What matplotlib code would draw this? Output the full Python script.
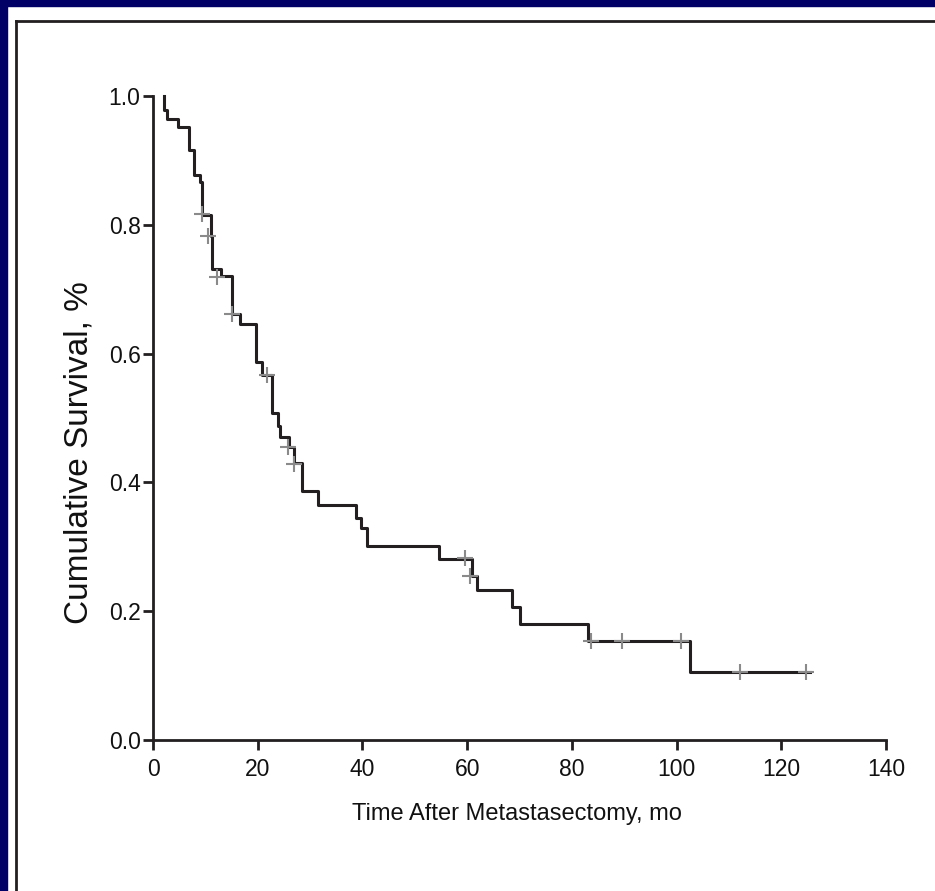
import matplotlib
matplotlib.use('Agg')
import matplotlib.pyplot as plt
from matplotlib.patches import Rectangle
from matplotlib.lines import Line2D

# Kaplan-Meier steps (months, survival after the drop)
start_time = 2.1
event_t = [2.1, 2.6, 4.8, 6.9, 7.8, 8.9, 9.4, 11.0, 11.3, 13.0, 15.1, 16.6,
           19.7, 20.8, 22.8, 23.8, 24.3, 26.0, 27.0, 28.5, 31.5, 38.7, 39.7,
           40.8, 54.7, 60.9, 61.8, 68.6, 70.1, 83.0, 102.6]
surv = [0.978, 0.964, 0.952, 0.916, 0.878, 0.867, 0.815, 0.783, 0.731, 0.720,
        0.661, 0.646, 0.587, 0.566, 0.508, 0.487, 0.471, 0.455, 0.430, 0.387,
        0.365, 0.345, 0.329, 0.302, 0.281, 0.255, 0.233, 0.207, 0.180, 0.154,
        0.106]
end_time = 125.5

# censored cases
cens_t = [9.3, 10.6, 12.3, 15.0, 21.7, 25.8, 26.9, 59.5, 60.5, 83.7, 89.6,
          100.8, 112.2, 124.7]
cens_s = [0.817, 0.782, 0.719, 0.661, 0.567, 0.455, 0.429, 0.282, 0.255,
          0.154, 0.154, 0.154, 0.106, 0.106]

x_ticks = [0, 20, 40, 60, 80, 100, 120, 140]
y_ticks = [0.0, 0.2, 0.4, 0.6, 0.8, 1.0]

plt.rcParams['font.family'] = ['Liberation Sans Narrow', 'Liberation Sans', 'DejaVu Sans']

W, H = 935, 891
fig = plt.figure(figsize=(W / 100, H / 100), dpi=100)
fig.patch.set_facecolor('white')

# navy border (top and left) and black frame
fig.add_artist(Rectangle((0, 0), 7 / W, 1, transform=fig.transFigure,
                         color='#000066', zorder=0))
fig.add_artist(Rectangle((0, 1 - 5.7 / H), 1, 5.7 / H, transform=fig.transFigure,
                         color='#000066', zorder=0))
fig.add_artist(Line2D([16.3 / W, 1], [1 - 21.3 / H, 1 - 21.3 / H],
                      transform=fig.transFigure, color='#231f20', lw=2))
fig.add_artist(Line2D([16.3 / W, 16.3 / W], [0, 1 - 21.3 / H],
                      transform=fig.transFigure, color='#231f20', lw=2))

ax = fig.add_axes([153 / W, 1 - 740 / H, 733 / W, 644 / H])

xs = [start_time] + event_t + [end_time]
ys = [1.0] + surv + [surv[-1]]
ax.step(xs, ys, where='post', color='#231f20', lw=2.2, clip_on=False, zorder=3)
ax.plot(cens_t, cens_s, linestyle='none', marker='+', markersize=12,
        mew=1.5, color='#8a8a8a', clip_on=False, zorder=4)

ax.set_xlim(0, 140)
ax.set_ylim(0, 1.0)
ax.set_xticks(x_ticks)
ax.set_yticks(y_ticks)
ax.set_xticklabels([str(t) for t in x_ticks])
ax.set_yticklabels(['%.1f' % t for t in y_ticks])

for side in ['top', 'right']:
    ax.spines[side].set_visible(False)
for side in ['left', 'bottom']:
    ax.spines[side].set_linewidth(2.0)
    ax.spines[side].set_color('#231f20')

ax.tick_params(axis='both', direction='out', length=7, width=2.0,
               color='#231f20', labelsize=16.5, labelcolor='#111111')
ax.tick_params(axis='x', pad=6)
ax.tick_params(axis='y', pad=2)

ax.set_xlabel('Time After Metastasectomy, mo', fontsize=17, color='#111111')
ax.set_ylabel('Cumulative Survival, %', fontsize=24, color='#111111')
ax.xaxis.set_label_coords(0.497, -0.098)
ax.yaxis.set_label_coords(-0.08, 0.446)

fig.savefig('out.png', dpi=100, facecolor='white')
